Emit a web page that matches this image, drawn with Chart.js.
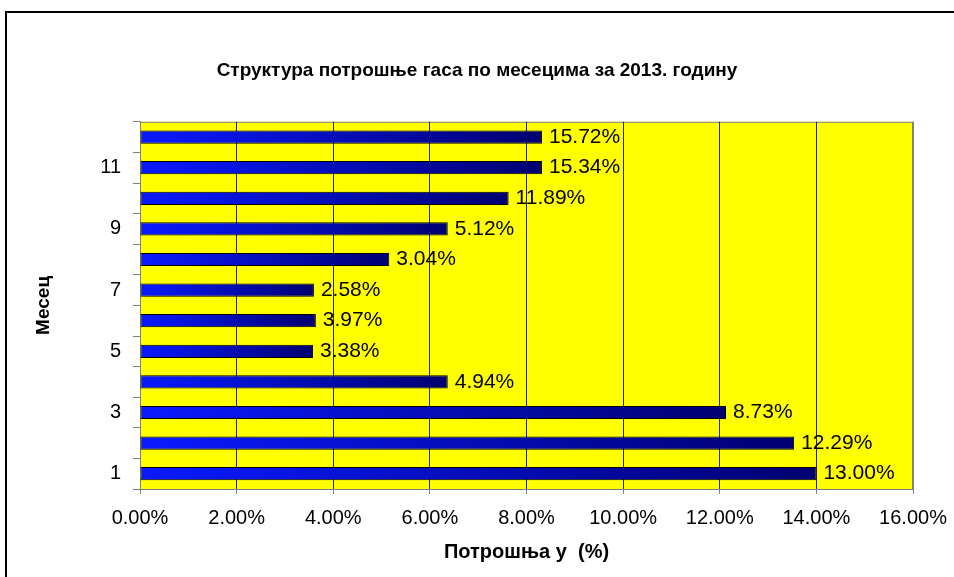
<!DOCTYPE html>
<html>
<head>
<meta charset="utf-8">
<script src="https://cdn.jsdelivr.net/npm/chart.js@4"></script>
<style>
  html, body { margin: 0; padding: 0; overflow: hidden; background: #fff; }
  #frame { position: absolute; left: 5px; top: 11px; width: 2000px; height: 2000px; border: 2px solid #000; }
  #chart { position: absolute; left: 0; top: 0; }
</style>
</head>
<body>
<div id="frame"></div>
<canvas id="chart" width="954" height="577"></canvas>
<script>
// months on the category axis
const months = ['1', '2', '3', '4', '5', '6', '7', '8', '9', '10', '11', '12'];
// bar lengths as drawn in the picture (%)
const barValues = [14.0, 13.54, 12.13, 6.37, 3.58, 3.64, 3.60, 5.16, 6.37, 7.63, 8.32, 8.32];
// data labels as printed next to each bar
const labelTexts = ['13.00%', '12.29%', '8.73%', '4.94%', '3.38%', '3.97%', '2.58%', '3.04%', '5.12%', '11.89%', '15.34%', '15.72%'];
// x axis range
const xMin = 0, xMax = 16, xStep = 2;

Chart.defaults.font.family = "'Liberation Sans', Arial, sans-serif";
Chart.defaults.color = '#000';

// yellow plot background with grey frame
const plotArea = {
  id: 'plotArea',
  beforeDraw(chart) {
    const { ctx, chartArea: a } = chart;
    ctx.save();
    ctx.fillStyle = '#ffff00';
    ctx.fillRect(a.left, a.top, a.right - a.left, a.bottom - a.top);
    ctx.strokeStyle = '#808080';
    ctx.lineWidth = 1;
    ctx.strokeRect(a.left + 0.5, a.top + 0.5, a.right - a.left - 1, a.bottom - a.top);
    ctx.restore();
  }
};

// text labels at the end of the bars
const barLabels = {
  id: 'barLabels',
  afterDatasetsDraw(chart) {
    const { ctx } = chart;
    const meta = chart.getDatasetMeta(0);
    ctx.save();
    ctx.font = "21px 'Liberation Sans', Arial, sans-serif";
    ctx.fillStyle = '#000';
    ctx.textAlign = 'left';
    ctx.textBaseline = 'middle';
    meta.data.forEach((bar, i) => {
      ctx.fillText(labelTexts[i], bar.x + 7, bar.y);
    });
    ctx.restore();
  }
};

const ctx = document.getElementById('chart').getContext('2d');
const chart = new Chart(ctx, {
  type: 'bar',
  data: {
    labels: months,
    datasets: [{
      data: barValues,
      borderColor: '#000',
      borderWidth: 1,
      borderSkipped: false,
      barPercentage: 0.43,
      categoryPercentage: 1,
      backgroundColor: (c) => {
        const ch = c.chart;
        const x = ch.scales.x;
        if (!ch.chartArea || !x || c.raw == null) return '#0000ff';
        const x0 = x.getPixelForValue(0);
        const x1 = x.getPixelForValue(c.raw);
        const g = ch.ctx.createLinearGradient(x0, 0, x1, 0);
        g.addColorStop(0, '#0a1aff');
        g.addColorStop(1, '#000070');
        return g;
      }
    }]
  },
  options: {
    indexAxis: 'y',
    responsive: false,
    animation: false,
    devicePixelRatio: 1,
    layout: { padding: 0 },
    plugins: {
      legend: { display: false },
      tooltip: { enabled: false },
      title: {
        display: true,
        text: 'Структура потрошње гаса по месецима за 2013. годину',
        font: { size: 19, weight: 'bold' },
        color: '#000',
        padding: { top: 59, bottom: 40 }
      }
    },
    scales: {
      x: {
        min: xMin,
        max: xMax,
        afterFit: (s) => { s.height = 88; s.paddingRight = 41; },
        ticks: {
          stepSize: xStep,
          autoSkip: false,
          maxRotation: 0,
          padding: 12,
          font: { size: 20 },
          color: '#000',
          callback: (v) => v.toFixed(2) + '%'
        },
        grid: {
          color: (c) => (c.index === 0 || c.tick.value === xMax) ? '#808080' : '#222',
          tickColor: '#808080',
          tickLength: 5,
          lineWidth: 1
        },
        border: { color: '#808080' },
        title: {
          display: true,
          text: 'Потрошња у  (%)',
          font: { size: 20, weight: 'bold' },
          color: '#000',
          padding: { top: 0, bottom: 13 }
        }
      },
      y: {
        reverse: true,
        afterFit: (s) => { s.width = 140; },
        ticks: {
          autoSkip: false,
          padding: 12,
          font: { size: 20 },
          color: '#000',
          callback: (v, i) => (i % 2 === 0 ? months[i] : '')
        },
        grid: {
          offset: true,
          drawOnChartArea: false,
          color: '#808080',
          tickLength: 7
        },
        border: { color: '#808080' },
        title: {
          display: true,
          text: 'Месец',
          font: { size: 19, weight: 'bold' },
          color: '#000',
          padding: { top: 32, bottom: 0 }
        }
      }
    }
  },
  plugins: [plotArea, barLabels]
});
</script>
</body>
</html>
